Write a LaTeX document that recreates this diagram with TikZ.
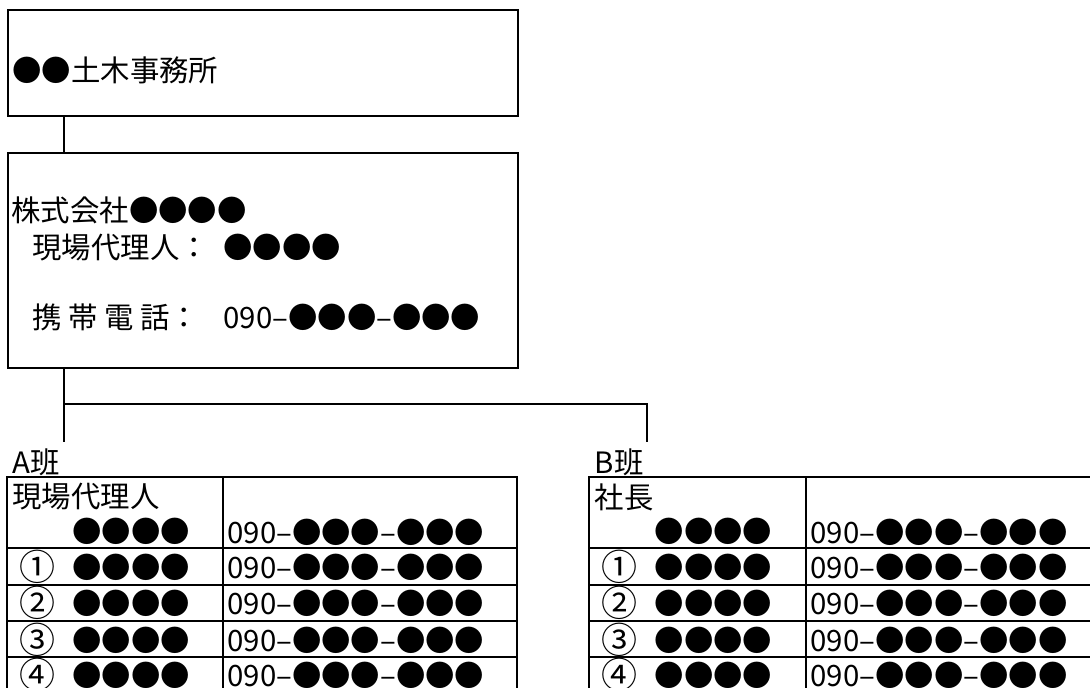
\documentclass[tikz,border=0pt]{standalone}
\usepackage{fontspec}
\newfontfamily\jp{Noto Sans CJK JP}

\begin{document}
\begin{tikzpicture}[x=0.5pt,y=-0.5pt,
  box/.style={draw, line width=1pt, inner sep=0pt, anchor=north west},
  txt/.style={anchor=west, inner sep=0pt, font=\jp\fontsize{14.7}{17}\selectfont},
  numtxt/.style={txt, font=\jp\fontsize{18}{20}\selectfont},
  link/.style={line width=0.7pt},
  rule/.style={line width=1pt}]
\useasboundingbox (0,0) rectangle (1090,687);
\clip (0,0) rectangle (1090,687);
\node[box, minimum width=255pt, minimum height=53pt] (office) at (7,9) {};
\node[txt] (officename) at (12,70) {●●土木事務所};
\node[box, minimum width=255pt, minimum height=107.5pt] (company) at (7,152) {};
\node[txt] (companyname) at (11,210) {株式会社●●●●};
\node[txt] (agent) at (32,247.5) {\makebox[6.5em][l]{現場代理人：}●●●●};
\node[txt] (mobile) at (32,317) {\makebox[6.5em][l]{携 帯 電 話：}090–●●●–●●●};
\coordinate (trunk) at (64,404);
\coordinate (adrop) at (64,442);
\coordinate (bdrop) at (647,442);
\draw[link] (office.south -| trunk) -- (company.north -| trunk);
\draw[link] (company.south -| trunk) -- (adrop);
\draw[link] (trunk) -| (bdrop);
\foreach \t/\L/\D/\team/\head in {a/7/222.5/A班/現場代理人, b/589.3/805.7/B班/社長} {
  \node[txt] (\t-team) at ({\L+5},462) {\team};
  \draw[rule] (\L,700) -- (\L,477) -- ({\D+294.5},477) -- ({\D+294.5},700);
  \draw[rule] (\D,477) -- (\D,700);
  \foreach \y in {548,584.5,620.5,656.5}
    \draw[rule] (\L,\y) -- ({\D+294.5},\y);
  \node[txt] (\t-head) at ({\L+5},497) {\head};
  \node[txt] (\t-boss) at ({\L+65},531) {●●●●};
  \node[txt] (\t-bossphone) at ({\D+4.5},532) {090–●●●–●●●};
  \foreach \i/\n/\y in {1/①/567, 2/②/603, 3/③/640, 4/④/675} {
    \node[numtxt] (\t-num\i) at ({\L+12},\y) {\n};
    \node[txt] (\t-name\i) at ({\L+65},\y) {●●●●};
    \node[txt] (\t-phone\i) at ({\D+4.5},\y) {090–●●●–●●●};
  }
}
\end{tikzpicture}
\end{document}
